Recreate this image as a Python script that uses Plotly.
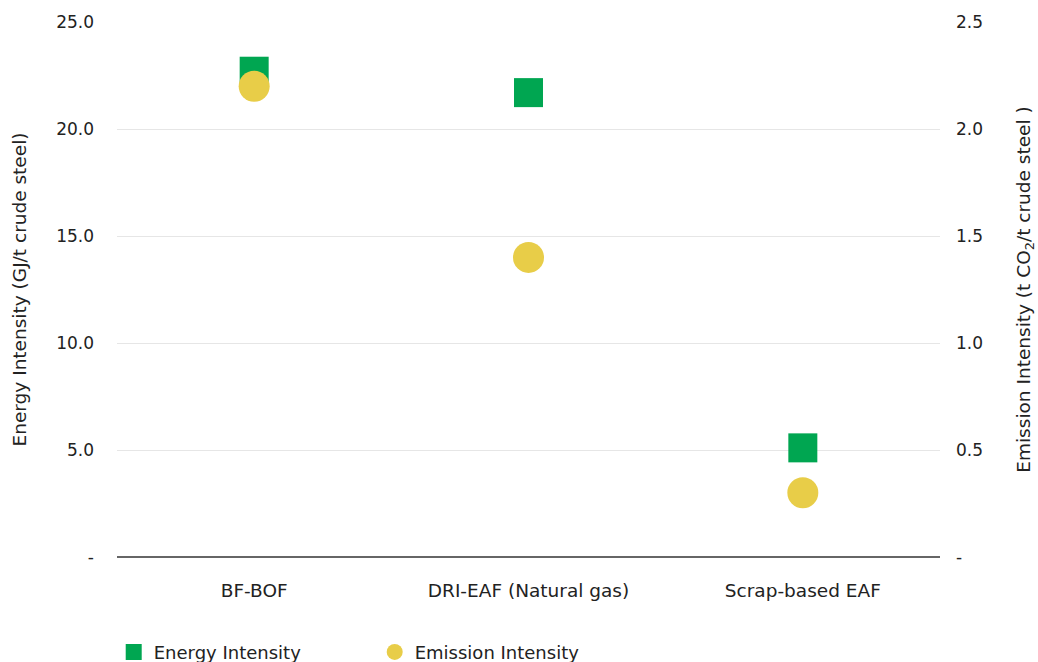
import plotly.graph_objects as go

# Steelmaking routes and their intensities
routes = ["BF-BOF", "DRI-EAF (Natural gas)", "Scrap-based EAF"]
energy_intensity = [22.7, 21.7, 5.1]      # GJ/t crude steel
emission_intensity = [2.2, 1.4, 0.3]      # t CO2/t crude steel

left_ticks = [0, 5, 10, 15, 20, 25]
left_ticktext = ["-", "5.0", "10.0", "15.0", "20.0", "25.0"]
right_ticks = [0, 0.5, 1.0, 1.5, 2.0, 2.5]
right_ticktext = ["-", "0.5", "1.0", "1.5", "2.0", "2.5"]

GREEN = "#00a651"
YELLOW = "#e8cd48"
FONT = "DejaVu Sans"
TEXT = "#222222"

fig = go.Figure()

fig.add_trace(go.Scatter(
    x=routes, y=energy_intensity, name="Energy Intensity",
    mode="markers",
    marker=dict(symbol="square", size=29, color=GREEN),
    yaxis="y",
))
fig.add_trace(go.Scatter(
    x=routes, y=emission_intensity, name="Emission Intensity",
    mode="markers",
    marker=dict(symbol="circle", size=31, color=YELLOW),
    yaxis="y2",
))

fig.update_layout(
    width=1038, height=662,
    margin=dict(l=117, r=98, t=22, b=105, autoexpand=False),
    paper_bgcolor="white", plot_bgcolor="white",
    font=dict(family=FONT, size=17, color=TEXT),
    showlegend=True,
    legend=dict(
        orientation="h", x=-0.004, xanchor="left", y=-0.178, yanchor="middle",
        entrywidth=216, entrywidthmode="pixels",
        font=dict(family=FONT, size=18, color=TEXT),
        itemsizing="trace",
    ),
    xaxis=dict(
        type="category", range=[-0.5, 2.5],
        showgrid=False, showline=False, zeroline=False,
        ticks="", ticklabelstandoff=20,
        tickfont=dict(size=18.5, color=TEXT),
    ),
    yaxis=dict(
        range=[0, 25], tickvals=left_ticks, ticktext=left_ticktext,
        showgrid=True, gridcolor="#e6e6e6", gridwidth=1,
        zeroline=True, zerolinecolor="#666666", zerolinewidth=2,
        showline=False, ticks="", ticklabelstandoff=22,
        tickfont=dict(size=17, color=TEXT),
        title=dict(text="Energy Intensity (GJ/t crude steel)",
                   font=dict(size=18.5, color=TEXT), standoff=24),
    ),
    yaxis2=dict(
        range=[0, 2.5], tickvals=right_ticks, ticktext=right_ticktext,
        overlaying="y", side="right",
        showgrid=False, zeroline=False, showline=False, ticks="",
        ticklabelstandoff=15,
        tickfont=dict(size=17, color=TEXT),
        title=dict(text="Emission Intensity (t CO<sub>2</sub>/t crude steel )",
                   font=dict(size=18.5, color=TEXT), standoff=35),
    ),
)

fig.write_html("out.html")
